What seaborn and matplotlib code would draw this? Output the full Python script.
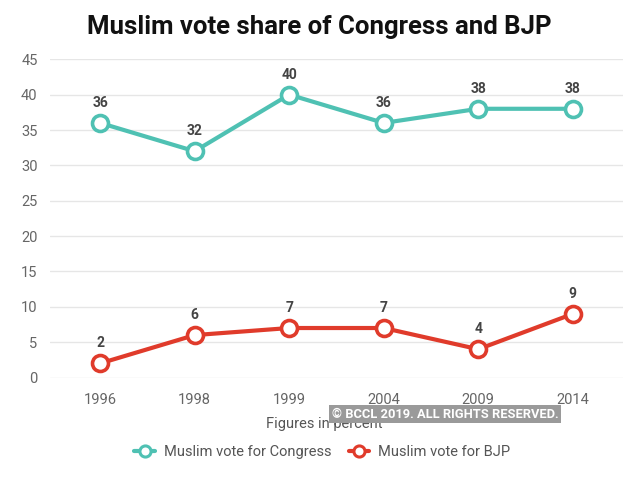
import matplotlib
matplotlib.use("Agg")
import matplotlib.pyplot as plt
import seaborn as sns
import pandas as pd
from matplotlib.lines import Line2D

years = ["1996", "1998", "1999", "2004", "2009", "2014"]
congress = [36, 32, 40, 36, 38, 38]
bjp = [2, 6, 7, 7, 4, 9]
series_names = ["Muslim vote for Congress", "Muslim vote for BJP"]
colors = ["#4fc1b3", "#e03b2b"]

sns.set_theme(style="white")
plt.rcParams['font.family'] = ['Roboto', 'DejaVu Sans']

df = pd.DataFrame({
    "year": years * 2,
    "pos": list(range(len(years))) * 2,
    "value": congress + bjp,
    "series": [series_names[0]] * len(years) + [series_names[1]] * len(years),
})

fig = plt.figure(figsize=(6.38, 4.8), dpi=100)
ax = fig.add_axes([0.0784, 0.2135, 0.898, 0.663])

sns.lineplot(data=df, x="pos", y="value", hue="series", palette=colors,
             linewidth=3, marker="o", markersize=11.5, markerfacecolor="white",
             markeredgewidth=2.6, legend=False, ax=ax, zorder=3)
for line, c in zip(ax.get_lines(), colors):
    line.set_markeredgecolor(c)

for vals in (congress, bjp):
    for i, v in enumerate(vals):
        ax.annotate(str(v), (i, v), xytext=(0, 14.5), textcoords="offset points",
                    ha="center", va="center", fontsize=10, fontweight="bold",
                    color="#444444")

ax.set_xlim(-0.53, 5.53)
ax.set_ylim(0, 45)
ax.set_yticks(range(0, 46, 5))
ax.set_xticks(range(len(years)))
ax.set_xticklabels(years)
ax.yaxis.grid(True, color="#e6e6e6", linewidth=1)
ax.xaxis.grid(False)
for s in ax.spines.values():
    s.set_visible(False)
ax.tick_params(axis="both", length=0, labelsize=10.5, colors="#666666")
ax.tick_params(axis="x", pad=11)
ax.tick_params(axis="y", pad=9)
ax.set_xlabel("")
ax.set_ylabel("")

fig.text(0.5, 0.943, "Muslim vote share of Congress and BJP", ha="center",
         va="center", fontsize=18.5, fontweight="bold", color="#111111")

fig.text(0.509, 0.117, "Figures in percent", ha="center", va="center",
         fontsize=10.5, color="#555555")
fig.text(0.698, 0.1375, "© BCCL 2019. ALL RIGHTS RESERVED.", ha="center",
         va="center", fontsize=9.3, fontweight="bold", color="white",
         bbox=dict(boxstyle="square,pad=0.2", facecolor="#9a9a9a", edgecolor="none"))

handles = [Line2D([0], [0], color=c, linewidth=3, marker="o", markersize=8,
                  markerfacecolor="white", markeredgecolor=c, markeredgewidth=2.2)
           for c in colors]
fig.legend(handles, series_names, loc="center", bbox_to_anchor=(0.505, 0.058),
           ncol=2, frameon=False, fontsize=10.5, handlelength=1.4,
           columnspacing=1.2, handletextpad=0.6, labelcolor="#555555")

fig.savefig("out.png", dpi=100)
